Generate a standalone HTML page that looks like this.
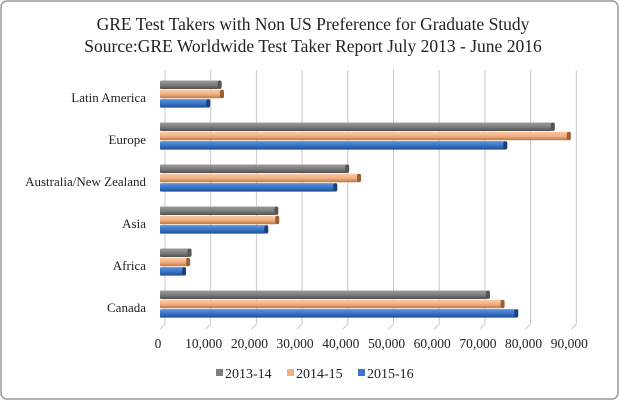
<!DOCTYPE html>
<html><head><meta charset="utf-8"><style>
body{margin:0;background:#fff;}
#wrap{position:relative;width:620px;height:401px;overflow:hidden;}
text{font-family:"Liberation Serif",serif;}
</style></head><body>
<div id="wrap">
<svg id="chart" width="620" height="401">
<defs>
<linearGradient id="gGray" x1="0" y1="0" x2="0" y2="1"><stop offset="0" stop-color="#9a9a9a"/><stop offset="0.5" stop-color="#7f7f7f"/><stop offset="1" stop-color="#4f4f4f"/></linearGradient>
<linearGradient id="gOrange" x1="0" y1="0" x2="0" y2="1"><stop offset="0" stop-color="#fbc9a4"/><stop offset="0.5" stop-color="#f4b183"/><stop offset="1" stop-color="#b8774a"/></linearGradient>
<linearGradient id="gBlue" x1="0" y1="0" x2="0" y2="1"><stop offset="0" stop-color="#5b93de"/><stop offset="0.5" stop-color="#3a75c8"/><stop offset="1" stop-color="#1f4e91"/></linearGradient>
</defs>
<rect x="1" y="1" width="617" height="398" rx="6" fill="#fff" stroke="#9a9a9a" stroke-width="1.5"/>
<text x="313" y="30" text-anchor="middle" font-size="17.5" fill="#222">GRE Test Takers with Non US Preference for Graduate Study</text>
<text x="313" y="52" text-anchor="middle" font-size="17.5" fill="#222">Source:GRE Worldwide Test Taker Report July 2013 - June 2016</text>
<g id="grid"></g><g id="bars"></g><g id="labels"></g><g id="legend"></g>
</svg>
</div>
<script>
const categories = ["Latin America","Europe","Australia/New Zealand","Asia","Africa","Canada"];
const series2013 = [13500, 86400, 41400, 25900, 6900, 72200];
const series2014 = [14000, 89900, 44000, 26100, 6600, 75400];
const series2015 = [11000, 76000, 38800, 23700, 5700, 78400];
const seriesNames = ["2013-14","2014-15","2015-16"];
const tickValues = [0,10000,20000,30000,40000,50000,60000,70000,80000,90000];

const NS="http://www.w3.org/2000/svg";
const x0=160, pxPer=0.00457, depth=5;
const xScale=v=>x0+v*pxPer;
const catY=i=>98+i*42;
function mk(tag,attrs,parent){const e=document.createElementNS(NS,tag);for(const k in attrs)e.setAttribute(k,attrs[k]);parent.appendChild(e);return e;}
const grid=document.getElementById('grid'),bars=document.getElementById('bars'),labels=document.getElementById('labels'),legend=document.getElementById('legend');
tickValues.forEach((t,i)=>{
  const x=xScale(t)+depth;
  const l=mk('line',{x1:x,y1:70,x2:x,y2:324,stroke:'#c8c8c8','stroke-width':1},grid);
  
  
  const d=mk('line',{x1:x,y1:324,x2:x-depth,y2:329,stroke:'#c8c8c8','stroke-width':1},grid);
  
  
  const tx=mk('text',{x:xScale(t)-2,y:348,'text-anchor':'middle','font-size':13.5,fill:'#222'},labels);
  tx.textContent=t===0?'0':t.toLocaleString('en-US');
  
  
});
const all=[series2013,series2014,series2015], fills=['url(#gGray)','url(#gOrange)','url(#gBlue)'], caps=['#555','#9c5f35','#1c427a'];
categories.forEach((c,i)=>{
  const cy=catY(i);
  const t=mk('text',{x:146,y:cy+4,'text-anchor':'end','font-size':13,fill:'#222'},labels);
  t.textContent=c;
  
  
  all.forEach((s,j)=>{
    const y=cy-17.5+j*9.3, w=xScale(s[i])-x0;
    const r=mk('rect',{x:x0,y:y,width:Math.max(0,w-3),height:8.5,fill:fills[j],rx:1},bars);
    
    
    const e=mk('rect',{x:x0+w-4,y:y,width:4,height:8.5,rx:2,fill:caps[j]},bars);
    
    
  });
});
const lx=[216,287,358];
seriesNames.forEach((n,j)=>{
  const r=mk('rect',{x:lx[j],y:369,width:7,height:7,fill:['#7f7f7f','#f4b183','#3a75c8'][j]},legend);
  
  
  const t=mk('text',{x:lx[j]+9,y:378,'font-size':14,fill:'#222'},legend);
  t.textContent=n;
  
  
});
</script>
</body></html>
